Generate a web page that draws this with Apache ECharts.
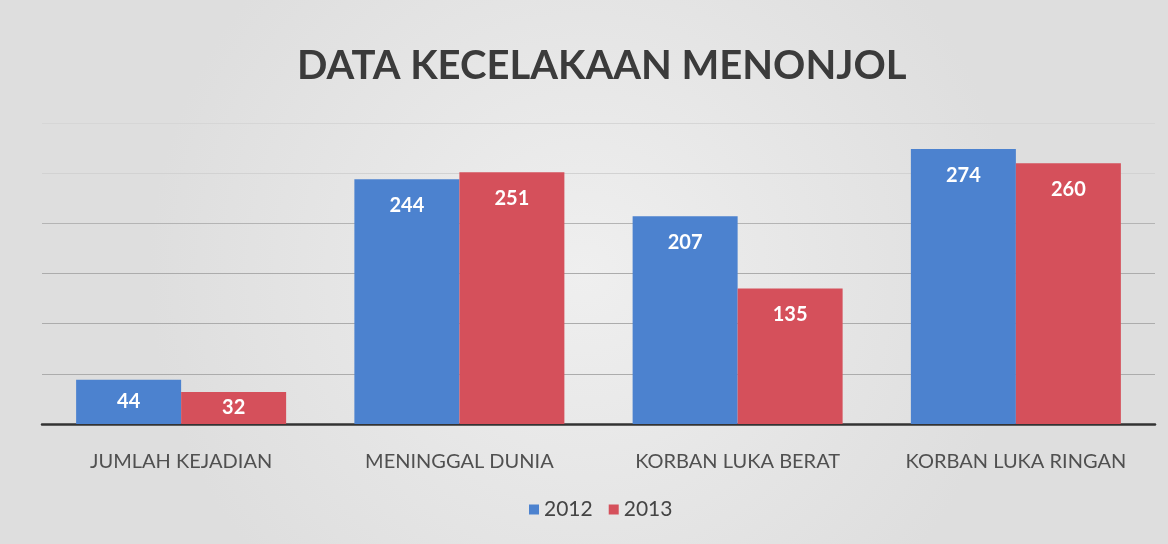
<!DOCTYPE html>
<html>
<head>
<meta charset="utf-8">
<script src="https://cdn.jsdelivr.net/npm/echarts@6/dist/echarts.min.js"></script>
<style>
  html, body { margin: 0; padding: 0; background: #ffffff; }
  #chart { width: 1168px; height: 544px; }
</style>
</head>
<body>
<div id="chart"></div>
<script>
// Accident figures per category, years 2012 and 2013
const categories = ['JUMLAH KEJADIAN', 'MENINGGAL DUNIA', 'KORBAN LUKA BERAT', 'KORBAN LUKA RINGAN'];
const years = ['2012', '2013'];
const values2012 = [44, 244, 207, 274];
const values2013 = [32, 251, 135, 260];

const chart = echarts.init(document.getElementById('chart'), null, { renderer: 'canvas' });

const labelStyle = {
  show: true,
  position: 'insideTop',
  distance: 16,
  color: '#ffffff',
  fontFamily: 'Lato',
  fontWeight: 'bold',
  fontSize: 20
};

// Short bars get their value label centred inside the bar
function withLabels(values) {
  return values.map(v => v < 60 ? { value: v, label: { position: 'inside' } } : v);
}

chart.setOption({
  backgroundColor: {
    type: 'radial', x: 0.5, y: 0.5, r: 0.8,
    colorStops: [
      { offset: 0, color: '#efefef' },
      { offset: 1, color: '#dedede' }
    ]
  },
  title: {
    text: 'DATA KECELAKAAN MENONJOL',
    left: 292,
    top: 41,
    textStyle: { fontFamily: 'Lato', fontWeight: 'bold', fontSize: 40, color: '#3b3b3b' }
  },
  legend: {
    data: years,
    bottom: 19,
    left: 524,
    icon: 'rect',
    itemWidth: 10,
    itemHeight: 10,
    itemGap: 16,
    textStyle: { fontFamily: 'Lato', fontSize: 21, color: '#444444' }
  },
  grid: { left: 42, right: 13, top: 123, bottom: 120 },
  xAxis: {
    type: 'category',
    data: categories,
    axisTick: { show: false },
    axisLine: { lineStyle: { color: '#333333', width: 2.5 } },
    axisLabel: { interval: 0, fontFamily: 'Lato', fontSize: 20, color: '#505050', margin: 28 }
  },
  yAxis: {
    type: 'value',
    min: 0,
    max: 300,
    interval: 50,
    axisLabel: { show: false },
    axisLine: { show: false },
    axisTick: { show: false },
    splitLine: {
      lineStyle: {
        color: ['#acacac', '#acacac', '#acacac', '#acacac', '#b4b4b4', '#d2d2d2', '#d6d6d6'],
        width: 1.2
      }
    }
  },
  series: [
    {
      name: years[0],
      type: 'bar',
      data: withLabels(values2012),
      barWidth: 105,
      barGap: '0%',
      itemStyle: { color: '#4c82cf' },
      label: labelStyle
    },
    {
      name: years[1],
      type: 'bar',
      data: withLabels(values2013),
      barWidth: 105,
      itemStyle: { color: '#d5505b' },
      label: labelStyle
    }
  ]
});
</script>
</body>
</html>
